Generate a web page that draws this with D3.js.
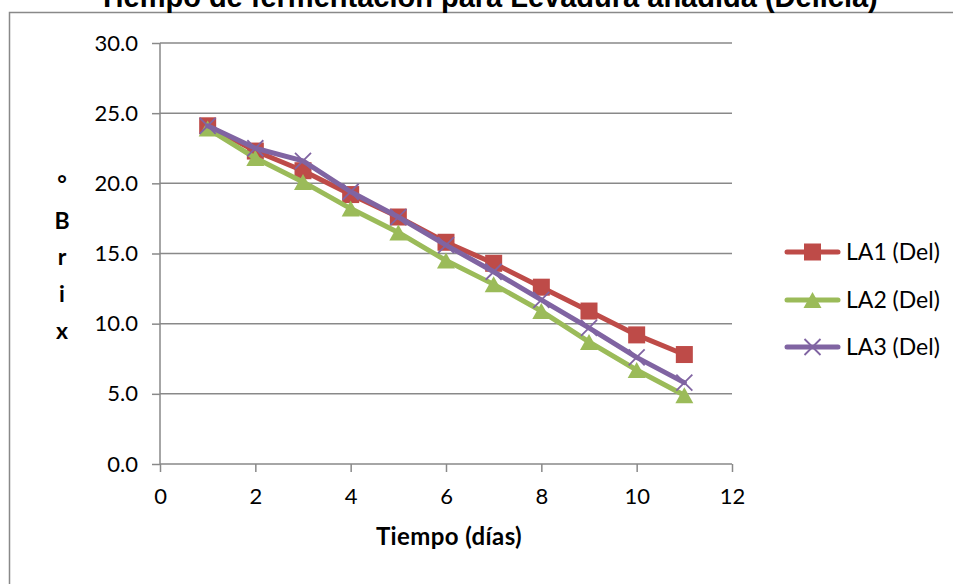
<!DOCTYPE html>
<html>
<head>
<meta charset="utf-8">
<script src="https://cdn.jsdelivr.net/npm/d3@7"></script>
<style>
  html, body { margin: 0; padding: 0; background: #ffffff; }
  svg { display: block; }
</style>
</head>
<body>
<svg id="chart" width="953" height="584"></svg>
<script>
// ---- data ----
const days = [1, 2, 3, 4, 5, 6, 7, 8, 9, 10, 11];
const seriesNames = ["LA1 (Del)", "LA2 (Del)", "LA3 (Del)"];
const la1 = [24.1, 22.3, 20.9, 19.2, 17.6, 15.8, 14.3, 12.6, 10.9, 9.2, 7.8];
const la2 = [23.9, 21.8, 20.1, 18.2, 16.5, 14.5, 12.8, 10.9, 8.7, 6.7, 4.9];
const la3 = [24.1, 22.5, 21.6, 19.4, 17.6, 15.6, 13.7, 11.7, 9.7, 7.6, 5.8];
const xTicks = [0, 2, 4, 6, 8, 10, 12];
const yTicks = [0, 5, 10, 15, 20, 25, 30];
const titleText = "Tiempo de fermentación para Levadura añadida (Delicia)";
const xTitle = "Tiempo (días)";
const yTitleChars = ["°", "B", "r", "i", "x"];

// ---- styles ----
const colors = ["#BE4B48", "#9BBB59", "#8064A2"];
const markers = ["square", "triangle", "cross"];
const gridColor = "#898989";
const font = "Lato, 'Open Sans', sans-serif";

const svg = d3.select("#chart");
const x = d3.scaleLinear().domain([0, 12]).range([160, 732]);
const y = d3.scaleLinear().domain([0, 30]).range([464, 43]);

// chart frame (extends beyond the viewport on right / bottom)
svg.append("rect")
  .attr("x", 9.5).attr("y", 12.5)
  .attr("width", 1000).attr("height", 700)
  .attr("fill", "#fff").attr("stroke", gridColor).attr("stroke-width", 1.5);

// title (clipped at top, as in the reference)
svg.append("text")
  .attr("x", 488).attr("y", 7)
  .attr("text-anchor", "middle")
  .attr("font-family", "'Liberation Sans', Arial, sans-serif")
  .attr("font-weight", "bold")
  .attr("font-size", 29)
  .attr("fill", "#000")
  .text(titleText);

// gridlines
svg.append("g").selectAll("line")
  .data(yTicks.filter(d => d > 0))
  .join("line")
  .attr("x1", x(0)).attr("x2", x(12))
  .attr("y1", d => y(d)).attr("y2", d => y(d))
  .attr("stroke", gridColor).attr("stroke-width", 1.5);

// y axis
const yAxis = d3.axisLeft(y).tickValues(yTicks).tickSize(8).tickPadding(14)
  .tickFormat(d3.format(".1f"));
const gy = svg.append("g").attr("transform", `translate(${x(0)},0)`).call(yAxis);
gy.select(".domain").attr("stroke", gridColor).attr("stroke-width", 1.5).attr("d", `M0,${y(30)}V${y(0)}`);
gy.selectAll(".tick line").attr("stroke", gridColor).attr("stroke-width", 1.5);
gy.selectAll(".tick text").attr("font-family", font).attr("font-size", 22).attr("fill", "#000");

// x axis
const xAxis = d3.axisBottom(x).tickValues(xTicks).tickSize(8).tickPadding(16)
  .tickFormat(d3.format("d"));
const gx = svg.append("g").attr("transform", `translate(0,${y(0)})`).call(xAxis);
gx.select(".domain").attr("stroke", gridColor).attr("stroke-width", 1.5).attr("d", `M${x(0)},0H${x(12)}`);
gx.selectAll(".tick line").attr("stroke", gridColor).attr("stroke-width", 1.5);
gx.selectAll(".tick text").attr("font-family", font).attr("font-size", 22).attr("fill", "#000");

// axis titles
svg.append("text")
  .attr("x", 449).attr("y", 545)
  .attr("text-anchor", "middle")
  .attr("font-family", font).attr("font-weight", "bold").attr("font-size", 24)
  .attr("letter-spacing", 0.4)
  .attr("fill", "#000")
  .text(xTitle);

svg.append("g").selectAll("text")
  .data(yTitleChars)
  .join("text")
  .attr("x", 62)
  .attr("y", (d, i) => 192 + i * 36.7)
  .attr("text-anchor", "middle")
  .attr("font-family", font).attr("font-weight", "bold").attr("font-size", 23)
  .attr("fill", "#000")
  .text(d => d);

// markers
function drawMarker(g, type, cx, cy, color) {
  if (type === "square") {
    const s = 17;
    g.append("rect").attr("x", cx - s / 2).attr("y", cy - s / 2)
      .attr("width", s).attr("height", s).attr("fill", color);
  } else if (type === "triangle") {
    const w = 18, h = 16;
    g.append("path")
      .attr("d", `M${cx},${cy - h / 2}L${cx + w / 2},${cy + h / 2}L${cx - w / 2},${cy + h / 2}Z`)
      .attr("fill", color);
  } else {
    const r = 8;
    g.append("path")
      .attr("d", `M${cx - r},${cy - r}L${cx + r},${cy + r}M${cx - r},${cy + r}L${cx + r},${cy - r}`)
      .attr("stroke", color).attr("stroke-width", 1.8).attr("fill", "none");
  }
}

const allSeries = [la1, la2, la3];
const line = d3.line().x(d => x(d[0])).y(d => y(d[1]));

allSeries.forEach((vals, si) => {
  const pts = days.map((d, i) => [d, vals[i]]);
  const g = svg.append("g");
  g.append("path")
    .attr("d", line(pts))
    .attr("fill", "none")
    .attr("stroke", colors[si])
    .attr("stroke-width", 5)
    .attr("stroke-linejoin", "round")
    .attr("stroke-linecap", "round");
  pts.forEach(p => drawMarker(g, markers[si], x(p[0]), y(p[1]), colors[si]));
});

// legend
const legendY = [252, 300, 347];
seriesNames.forEach((name, si) => {
  const g = svg.append("g");
  const ly = legendY[si];
  g.append("line")
    .attr("x1", 787).attr("x2", 838).attr("y1", ly).attr("y2", ly)
    .attr("stroke", colors[si]).attr("stroke-width", 5).attr("stroke-linecap", "round");
  drawMarker(g, markers[si], 812.5, ly, colors[si]);
  g.append("text")
    .attr("x", 846).attr("y", ly)
    .attr("dy", "0.36em")
    .attr("font-family", font).attr("font-size", 23)
    .attr("fill", "#000")
    .text(name);
});
</script>
</body>
</html>
